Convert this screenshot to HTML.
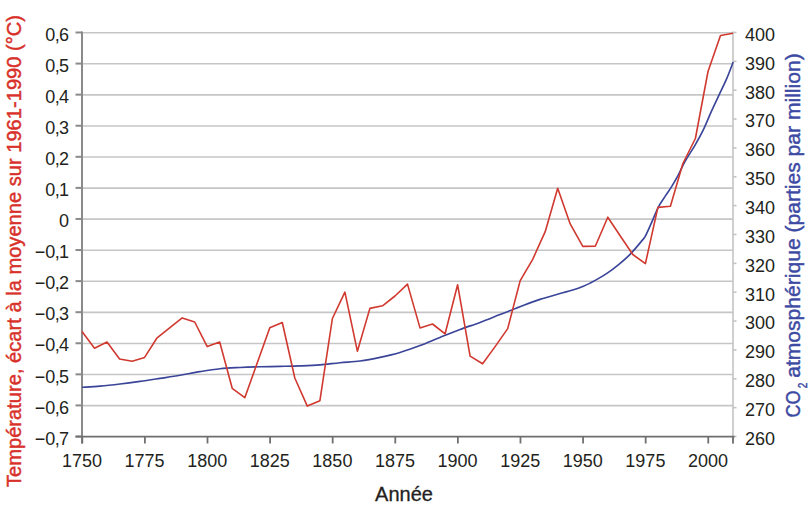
<!DOCTYPE html>
<html><head><meta charset="utf-8"><style>
html,body{margin:0;padding:0;background:#fff;}
body{width:810px;height:512px;overflow:hidden;}
svg{display:block;}
.t{font-family:"Liberation Sans",sans-serif;font-size:18px;fill:#231f20;}
.at{font-family:"Liberation Sans",sans-serif;font-size:20px;fill:#231f20;}
.st{stroke-width:0.45px;}
</style></head><body>
<svg width="810" height="512" viewBox="0 0 810 512">
<line x1="83" y1="32.70" x2="733" y2="32.70" stroke="#c6c6c6" stroke-width="1.6"/>
<line x1="83" y1="63.78" x2="733" y2="63.78" stroke="#c6c6c6" stroke-width="1.6"/>
<line x1="83" y1="94.85" x2="733" y2="94.85" stroke="#c6c6c6" stroke-width="1.6"/>
<line x1="83" y1="125.93" x2="733" y2="125.93" stroke="#c6c6c6" stroke-width="1.6"/>
<line x1="83" y1="157.01" x2="733" y2="157.01" stroke="#c6c6c6" stroke-width="1.6"/>
<line x1="83" y1="188.08" x2="733" y2="188.08" stroke="#c6c6c6" stroke-width="1.6"/>
<line x1="83" y1="219.16" x2="733" y2="219.16" stroke="#c6c6c6" stroke-width="1.6"/>
<line x1="83" y1="250.24" x2="733" y2="250.24" stroke="#c6c6c6" stroke-width="1.6"/>
<line x1="83" y1="281.32" x2="733" y2="281.32" stroke="#c6c6c6" stroke-width="1.6"/>
<line x1="83" y1="312.39" x2="733" y2="312.39" stroke="#c6c6c6" stroke-width="1.6"/>
<line x1="83" y1="343.47" x2="733" y2="343.47" stroke="#c6c6c6" stroke-width="1.6"/>
<line x1="83" y1="374.55" x2="733" y2="374.55" stroke="#c6c6c6" stroke-width="1.6"/>
<line x1="83" y1="405.62" x2="733" y2="405.62" stroke="#c6c6c6" stroke-width="1.6"/>
<line x1="733" y1="31.5" x2="733" y2="443.5" stroke="#c4c4c4" stroke-width="1.6"/>
<line x1="733" y1="32.50" x2="736.5" y2="32.50" stroke="#c4c4c4" stroke-width="1.6"/>
<line x1="733" y1="61.36" x2="736.5" y2="61.36" stroke="#c4c4c4" stroke-width="1.6"/>
<line x1="733" y1="90.21" x2="736.5" y2="90.21" stroke="#c4c4c4" stroke-width="1.6"/>
<line x1="733" y1="119.07" x2="736.5" y2="119.07" stroke="#c4c4c4" stroke-width="1.6"/>
<line x1="733" y1="147.93" x2="736.5" y2="147.93" stroke="#c4c4c4" stroke-width="1.6"/>
<line x1="733" y1="176.79" x2="736.5" y2="176.79" stroke="#c4c4c4" stroke-width="1.6"/>
<line x1="733" y1="205.64" x2="736.5" y2="205.64" stroke="#c4c4c4" stroke-width="1.6"/>
<line x1="733" y1="234.50" x2="736.5" y2="234.50" stroke="#c4c4c4" stroke-width="1.6"/>
<line x1="733" y1="263.36" x2="736.5" y2="263.36" stroke="#c4c4c4" stroke-width="1.6"/>
<line x1="733" y1="292.21" x2="736.5" y2="292.21" stroke="#c4c4c4" stroke-width="1.6"/>
<line x1="733" y1="321.07" x2="736.5" y2="321.07" stroke="#c4c4c4" stroke-width="1.6"/>
<line x1="733" y1="349.93" x2="736.5" y2="349.93" stroke="#c4c4c4" stroke-width="1.6"/>
<line x1="733" y1="378.79" x2="736.5" y2="378.79" stroke="#c4c4c4" stroke-width="1.6"/>
<line x1="733" y1="407.64" x2="736.5" y2="407.64" stroke="#c4c4c4" stroke-width="1.6"/>
<line x1="733" y1="436.50" x2="736.5" y2="436.50" stroke="#c4c4c4" stroke-width="1.6"/>
<line x1="82" y1="31.5" x2="82" y2="443.5" stroke="#8a8a8a" stroke-width="2"/>
<line x1="75.5" y1="32.50" x2="82" y2="32.50" stroke="#8a8a8a" stroke-width="2"/>
<line x1="75.5" y1="63.58" x2="82" y2="63.58" stroke="#8a8a8a" stroke-width="2"/>
<line x1="75.5" y1="94.65" x2="82" y2="94.65" stroke="#8a8a8a" stroke-width="2"/>
<line x1="75.5" y1="125.73" x2="82" y2="125.73" stroke="#8a8a8a" stroke-width="2"/>
<line x1="75.5" y1="156.81" x2="82" y2="156.81" stroke="#8a8a8a" stroke-width="2"/>
<line x1="75.5" y1="187.88" x2="82" y2="187.88" stroke="#8a8a8a" stroke-width="2"/>
<line x1="75.5" y1="218.96" x2="82" y2="218.96" stroke="#8a8a8a" stroke-width="2"/>
<line x1="75.5" y1="250.04" x2="82" y2="250.04" stroke="#8a8a8a" stroke-width="2"/>
<line x1="75.5" y1="281.12" x2="82" y2="281.12" stroke="#8a8a8a" stroke-width="2"/>
<line x1="75.5" y1="312.19" x2="82" y2="312.19" stroke="#8a8a8a" stroke-width="2"/>
<line x1="75.5" y1="343.27" x2="82" y2="343.27" stroke="#8a8a8a" stroke-width="2"/>
<line x1="75.5" y1="374.35" x2="82" y2="374.35" stroke="#8a8a8a" stroke-width="2"/>
<line x1="75.5" y1="405.42" x2="82" y2="405.42" stroke="#8a8a8a" stroke-width="2"/>
<line x1="75.5" y1="436.50" x2="82" y2="436.50" stroke="#8a8a8a" stroke-width="2"/>
<line x1="75.5" y1="436.7" x2="734.5" y2="436.7" stroke="#6e6e6e" stroke-width="1.7"/>
<line x1="82.30" y1="436.5" x2="82.30" y2="443.5" stroke="#707070" stroke-width="1.8"/>
<line x1="144.90" y1="436.5" x2="144.90" y2="443.5" stroke="#707070" stroke-width="1.8"/>
<line x1="207.49" y1="436.5" x2="207.49" y2="443.5" stroke="#707070" stroke-width="1.8"/>
<line x1="270.09" y1="436.5" x2="270.09" y2="443.5" stroke="#707070" stroke-width="1.8"/>
<line x1="332.68" y1="436.5" x2="332.68" y2="443.5" stroke="#707070" stroke-width="1.8"/>
<line x1="395.28" y1="436.5" x2="395.28" y2="443.5" stroke="#707070" stroke-width="1.8"/>
<line x1="457.88" y1="436.5" x2="457.88" y2="443.5" stroke="#707070" stroke-width="1.8"/>
<line x1="520.47" y1="436.5" x2="520.47" y2="443.5" stroke="#707070" stroke-width="1.8"/>
<line x1="583.07" y1="436.5" x2="583.07" y2="443.5" stroke="#707070" stroke-width="1.8"/>
<line x1="645.67" y1="436.5" x2="645.67" y2="443.5" stroke="#707070" stroke-width="1.8"/>
<line x1="708.26" y1="436.5" x2="708.26" y2="443.5" stroke="#707070" stroke-width="1.8"/>
<line x1="733" y1="436.5" x2="733" y2="443.5" stroke="#707070" stroke-width="1.8"/>
<path d="M82.00,387.30 C85.00,387.10 93.67,386.65 100.00,386.10 C106.33,385.55 113.33,384.78 120.00,384.00 C126.67,383.22 133.33,382.33 140.00,381.40 C146.67,380.47 153.33,379.42 160.00,378.40 C166.67,377.38 173.33,376.43 180.00,375.30 C186.67,374.17 193.33,372.70 200.00,371.60 C206.67,370.50 213.33,369.38 220.00,368.70 C226.67,368.02 233.33,367.82 240.00,367.50 C246.67,367.18 253.33,366.98 260.00,366.80 C266.67,366.62 273.33,366.55 280.00,366.40 C286.67,366.25 293.33,366.15 300.00,365.90 C306.67,365.65 313.33,365.43 320.00,364.90 C326.67,364.37 333.33,363.35 340.00,362.70 C346.67,362.05 353.33,361.88 360.00,361.00 C366.67,360.12 373.33,358.82 380.00,357.40 C386.67,355.98 393.33,354.47 400.00,352.50 C406.67,350.53 413.33,348.12 420.00,345.60 C426.67,343.08 433.33,340.08 440.00,337.40 C446.67,334.72 453.33,332.00 460.00,329.50 C466.67,327.00 473.33,324.88 480.00,322.40 C486.67,319.92 493.33,317.20 500.00,314.60 C506.67,312.00 513.33,309.33 520.00,306.80 C526.67,304.27 533.33,301.62 540.00,299.40 C546.67,297.18 554.72,295.02 560.00,293.50 C565.28,291.98 567.80,291.50 571.70,290.30 C575.60,289.10 579.48,287.95 583.40,286.30 C587.32,284.65 591.28,282.55 595.20,280.40 C599.12,278.25 603.00,276.03 606.90,273.40 C610.80,270.77 614.70,267.82 618.60,264.60 C622.50,261.38 626.40,258.10 630.30,254.10 C634.20,250.10 639.47,243.63 642.00,240.60 C644.53,237.57 643.88,238.95 645.50,235.90 C647.12,232.85 649.52,227.18 651.70,222.30 C653.88,217.42 656.32,211.00 658.60,206.60 C660.88,202.20 663.28,199.15 665.40,195.90 C667.52,192.65 669.18,190.52 671.30,187.10 C673.42,183.68 675.83,179.63 678.10,175.40 C680.37,171.17 682.05,166.78 684.90,161.70 C687.75,156.62 692.12,150.23 695.20,144.90 C698.28,139.57 700.67,135.37 703.40,129.70 C706.13,124.03 708.87,116.95 711.60,110.90 C714.33,104.85 717.25,98.87 719.80,93.40 C722.35,87.93 724.67,83.33 726.90,78.10 C729.13,72.87 732.15,64.68 733.20,62.00" fill="none" stroke="#3a4599" stroke-width="1.65" stroke-linejoin="round"/>
<polyline points="82.0,331.5 94.5,348.3 107.0,342.0 119.6,359.0 132.1,361.3 144.6,357.4 157.1,337.8 169.6,327.8 182.2,317.9 194.7,322.0 207.2,346.6 219.7,342.0 232.2,388.3 244.8,397.7 257.3,362.7 269.8,327.8 282.3,322.5 294.8,378.0 307.3,406.1 319.9,400.7 332.4,318.5 344.9,292.1 357.4,351.3 369.9,308.4 382.5,305.8 395.0,296.0 407.5,284.1 420.0,327.9 432.5,324.0 445.1,333.8 457.6,284.7 470.1,356.1 482.6,363.8 495.1,346.6 507.7,328.6 520.2,280.6 532.7,259.3 545.2,231.7 557.7,188.3 570.2,223.9 582.8,246.4 595.3,246.3 607.8,217.2 620.3,236.0 632.8,254.5 645.4,263.6 657.9,207.4 670.4,206.2 682.9,163.5 695.4,138.5 708.0,71.5 720.5,35.5 733.0,33.2" fill="none" stroke="#d0392f" stroke-width="1.6" stroke-linejoin="round"/>
<text x="69" y="40.70" text-anchor="end" class="t">0<tspan dx="-0.7">,</tspan><tspan dx="-0.7">6</tspan></text>
<text x="69" y="71.78" text-anchor="end" class="t">0<tspan dx="-0.7">,</tspan><tspan dx="-0.7">5</tspan></text>
<text x="69" y="102.85" text-anchor="end" class="t">0<tspan dx="-0.7">,</tspan><tspan dx="-0.7">4</tspan></text>
<text x="69" y="133.93" text-anchor="end" class="t">0<tspan dx="-0.7">,</tspan><tspan dx="-0.7">3</tspan></text>
<text x="69" y="165.01" text-anchor="end" class="t">0<tspan dx="-0.7">,</tspan><tspan dx="-0.7">2</tspan></text>
<text x="69" y="196.08" text-anchor="end" class="t">0<tspan dx="-0.7">,</tspan><tspan dx="-0.7">1</tspan></text>
<text x="69" y="227.16" text-anchor="end" class="t">0</text>
<text x="69" y="258.24" text-anchor="end" class="t">−0<tspan dx="-0.7">,</tspan><tspan dx="-0.7">1</tspan></text>
<text x="69" y="289.32" text-anchor="end" class="t">−0<tspan dx="-0.7">,</tspan><tspan dx="-0.7">2</tspan></text>
<text x="69" y="320.39" text-anchor="end" class="t">−0<tspan dx="-0.7">,</tspan><tspan dx="-0.7">3</tspan></text>
<text x="69" y="351.47" text-anchor="end" class="t">−0<tspan dx="-0.7">,</tspan><tspan dx="-0.7">4</tspan></text>
<text x="69" y="382.55" text-anchor="end" class="t">−0<tspan dx="-0.7">,</tspan><tspan dx="-0.7">5</tspan></text>
<text x="69" y="413.62" text-anchor="end" class="t">−0<tspan dx="-0.7">,</tspan><tspan dx="-0.7">6</tspan></text>
<text x="69" y="444.70" text-anchor="end" class="t">−0<tspan dx="-0.7">,</tspan><tspan dx="-0.7">7</tspan></text>
<text x="745" y="40.90" class="t">400</text>
<text x="745" y="69.76" class="t">390</text>
<text x="745" y="98.61" class="t">380</text>
<text x="745" y="127.47" class="t">370</text>
<text x="745" y="156.33" class="t">360</text>
<text x="745" y="185.19" class="t">350</text>
<text x="745" y="214.04" class="t">340</text>
<text x="745" y="242.90" class="t">330</text>
<text x="745" y="271.76" class="t">320</text>
<text x="745" y="300.61" class="t">310</text>
<text x="745" y="329.47" class="t">300</text>
<text x="745" y="358.33" class="t">290</text>
<text x="745" y="387.19" class="t">280</text>
<text x="745" y="416.04" class="t">270</text>
<text x="745" y="444.90" class="t">260</text>
<text x="82.00" y="466.6" text-anchor="middle" class="t">1750</text>
<text x="144.60" y="466.6" text-anchor="middle" class="t">1775</text>
<text x="207.19" y="466.6" text-anchor="middle" class="t">1800</text>
<text x="269.79" y="466.6" text-anchor="middle" class="t">1825</text>
<text x="332.38" y="466.6" text-anchor="middle" class="t">1850</text>
<text x="394.98" y="466.6" text-anchor="middle" class="t">1875</text>
<text x="457.58" y="466.6" text-anchor="middle" class="t">1900</text>
<text x="520.17" y="466.6" text-anchor="middle" class="t">1925</text>
<text x="582.77" y="466.6" text-anchor="middle" class="t">1950</text>
<text x="645.37" y="466.6" text-anchor="middle" class="t">1975</text>
<text x="707.96" y="466.6" text-anchor="middle" class="t">2000</text>
<text x="404" y="501.1" text-anchor="middle" class="at" style="stroke:#231f20;stroke-width:0.3px">Année</text>
<text transform="translate(21.2,487) rotate(-90)" x="0" y="0" class="at st" style="fill:#d8302a;stroke:#d8302a" textLength="472" lengthAdjust="spacingAndGlyphs">Température, écart à la moyenne sur 1961-1990 (°C)</text>
<g transform="translate(799.5,417.5) rotate(-90)" class="at st" style="fill:#3d4aa3;stroke:#3d4aa3"><text x="0" y="0" textLength="27" lengthAdjust="spacingAndGlyphs">CO</text><text x="29.2" y="7.6" font-size="12.5" textLength="5.6" lengthAdjust="spacingAndGlyphs">2</text><text x="39.7" y="0" textLength="324.5" lengthAdjust="spacingAndGlyphs">atmosphérique (parties par million)</text></g>
</svg>
</body></html>
